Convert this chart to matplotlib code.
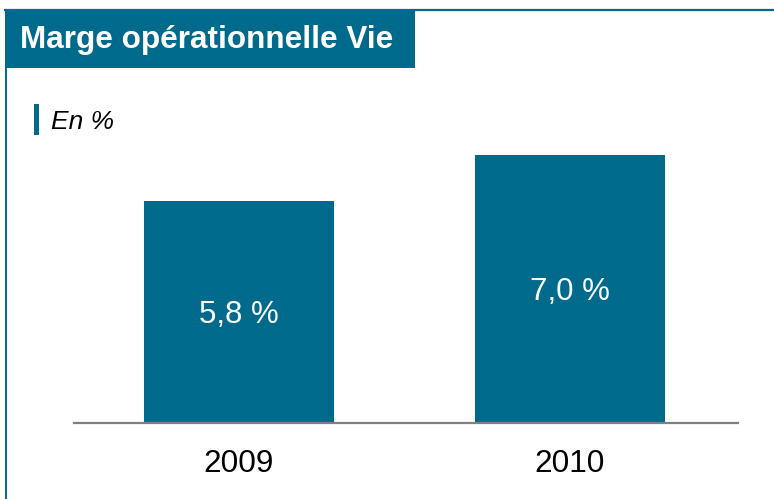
import matplotlib
matplotlib.use("Agg")
from matplotlib import pyplot as plt
from matplotlib.patches import Rectangle
from matplotlib.lines import Line2D

plt.rc('font', family=['Liberation Sans', 'DejaVu Sans'])

years = ['2009', '2010']
marge = [5.8, 7.0]
labels = ['5,8 %', '7,0 %']
title = 'Marge opérationnelle Vie'
unit = 'En %'

teal = '#006A8C'
W, H = 774, 499

fig = plt.figure(figsize=(W/100, H/100), dpi=100)

def fx(px): return px / W
def fy(py): return 1 - py / H

# frame lines (top and left)
fig.add_artist(Line2D([fx(5), fx(774)], [fy(10), fy(10)], color=teal, lw=1.6))
fig.add_artist(Line2D([fx(6), fx(6)], [fy(10), fy(499)], color=teal, lw=1.4))

# title box
fig.add_artist(Rectangle((fx(5), fy(68)), fx(410), 58/H, facecolor=teal,
                         edgecolor='none', transform=fig.transFigure))
fig.text(fx(20), fy(48), title, color='white', fontsize=22.7,
         fontweight='bold', va='baseline', ha='left')

# unit label
fig.add_artist(Rectangle((fx(34), fy(135)), fx(5), 31/H, facecolor=teal,
                         edgecolor='none', transform=fig.transFigure))
fig.text(fx(51), fy(129), unit, color='black', fontsize=19, style='italic',
         va='baseline', ha='left')

# bar chart
ax = fig.add_axes([fx(74), fy(423), fx(738) - fx(74), 268/H])
x = list(range(len(years)))
ax.bar(x, marge, width=0.574, color=teal)
for xi, v, lab in zip(x, marge, labels):
    ax.text(xi, v/2, lab, color='white', fontsize=22.5, ha='center',
            va='center_baseline')

ax.set_xlim(-0.4985, 1.5076)
ax.set_ylim(0, 7.0)
ax.set_xticks(x)
ax.set_xticklabels(years, fontsize=22.7)
ax.tick_params(axis='x', length=0, pad=19)
ax.set_yticks([])
for s in ['top', 'right', 'left']:
    ax.spines[s].set_visible(False)
ax.spines['bottom'].set_color('#808080')
ax.spines['bottom'].set_linewidth(1.6)

fig.savefig('out.png', dpi=100)
